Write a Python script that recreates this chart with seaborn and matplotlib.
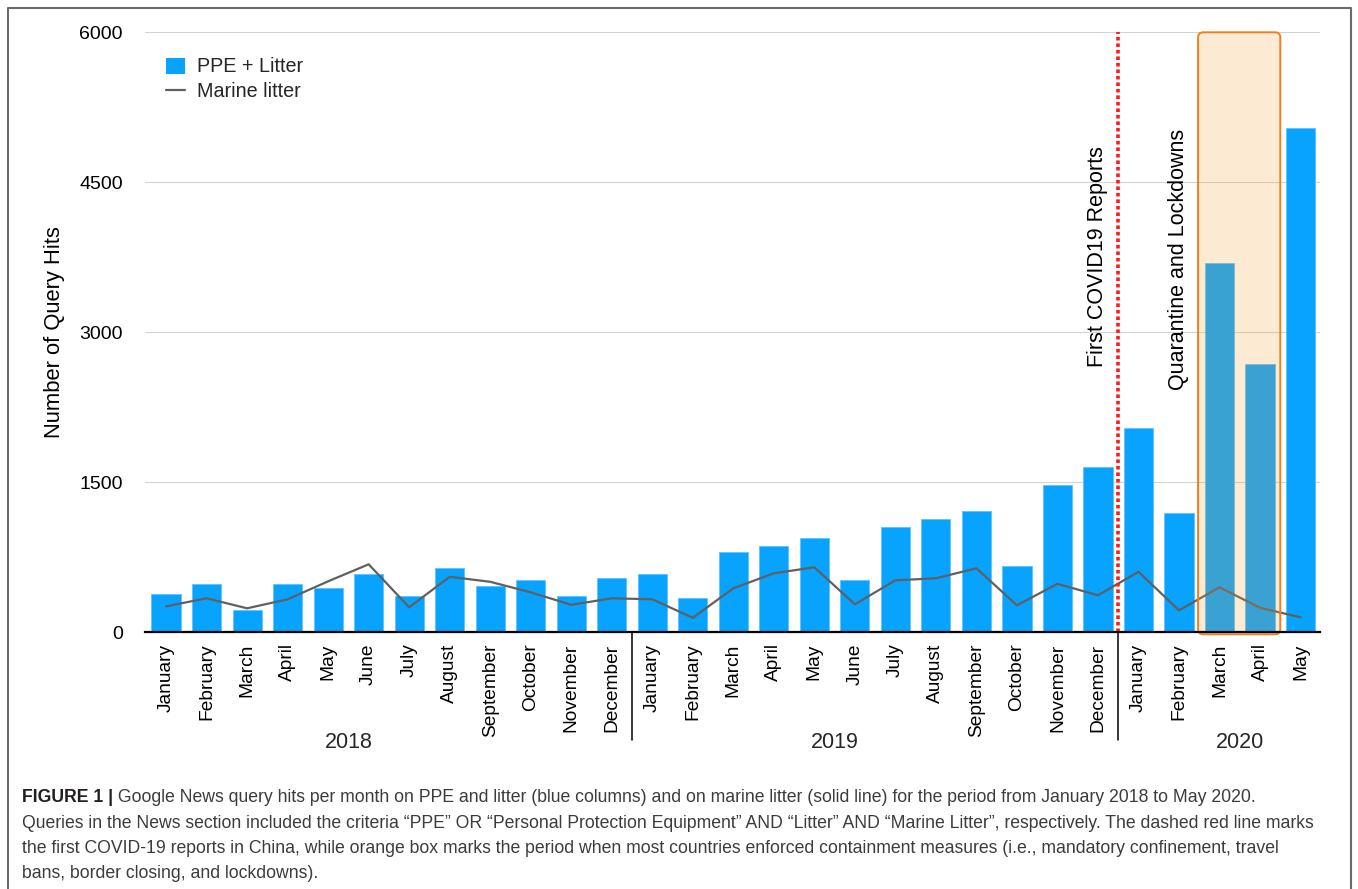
import numpy as np
import pandas as pd
import matplotlib.pyplot as plt
import matplotlib.transforms as mtransforms
from matplotlib.patches import FancyBboxPatch, Patch
from matplotlib.lines import Line2D
from matplotlib.colors import to_rgba
import seaborn as sns

month_names = ['January', 'February', 'March', 'April', 'May', 'June', 'July',
               'August', 'September', 'October', 'November', 'December']
month_labels = month_names + month_names + month_names[:5]
year_labels = ['2018', '2019', '2020']

# query hits per month, Jan 2018 - May 2020
ppe_litter = [385, 485, 225, 485, 440, 580, 360, 640, 460, 520, 360, 540,
              585, 345, 800, 860, 940, 520, 1055, 1135, 1215, 660, 1470, 1650,
              2045, 1195, 3690, 2680, 5040]
marine_litter = [260, 340, 240, 330, 510, 680, 250, 555, 505, 400, 275, 340,
                 330, 145, 440, 590, 650, 280, 520, 540, 640, 270, 485, 370,
                 605, 220, 450, 245, 150]

df = pd.DataFrame({'pos': np.arange(len(ppe_litter)), 'month': month_labels,
                   'ppe': ppe_litter, 'marine': marine_litter})

sns.set_theme(style="white")
plt.rcParams['font.family'] = ['Liberation Sans', 'DejaVu Sans']

W, H = 1358, 889
fig = plt.figure(figsize=(W / 100, H / 100), dpi=100)
ax = fig.add_axes([145 / W, 1 - 632.3 / H, 1175 / W, 600 / H])

blue = '#08A2FF'
grey = '#606060'

sns.barplot(data=df, x='pos', y='ppe', native_scale=True, width=0.72, color=blue,
            saturation=1, edgecolor='#5EC2FF', linewidth=0.6, ax=ax, zorder=2)
sns.lineplot(data=df, x='pos', y='marine', color=grey, linewidth=1.6, ax=ax,
             zorder=3, legend=False)

ax.set_xlim(-0.52, 28.48)
ax.set_ylim(0, 6000)
ax.set_yticks([0, 1500, 3000, 4500, 6000])
ax.set_xticks(df['pos'])
ax.set_xticklabels(df['month'], rotation=90, ha='center', va='top')
ax.yaxis.grid(True, color='#d3d3d3', linewidth=0.8)
ax.xaxis.grid(False)
ax.set_axisbelow(True)
for s in ['left', 'top', 'right']:
    ax.spines[s].set_visible(False)
ax.spines['bottom'].set_color('black')
ax.spines['bottom'].set_linewidth(1.6)
ax.spines['bottom'].set_zorder(6)
ax.tick_params(axis='y', length=0, pad=16, labelsize=14, labelcolor='black')
ax.tick_params(axis='x', length=0, pad=8, labelsize=13.8, labelcolor='black')
ax.set_xlabel('')
ax.set_ylabel('Number of Query Hits', fontsize=15.8, labelpad=10, color='black')

# first covid reports (dotted red) and lockdown period (orange box)
ax.vlines(23.5, 0, 6000, colors='#FF1A1A', linestyles=(0, (1, 0.8)),
          linewidth=2.6, zorder=4)
box = FancyBboxPatch((25.47, -20), 27.5 - 25.47, 6020,
                     boxstyle='round,pad=0,rounding_size=0.13', mutation_aspect=405,
                     facecolor=to_rgba('#F5A030', 0.21), edgecolor='#F07F22',
                     linewidth=1.4, zorder=5, clip_on=False)
ax.add_patch(box)

ax.text(23.0, 2650, 'First COVID19 Reports', rotation=90, ha='center', va='bottom',
        fontsize=15.5, color='black')
ax.text(25.0, 2420, 'Quarantine and Lockdowns', rotation=90, ha='center', va='bottom',
        fontsize=15.5, color='black')

# year separators and year labels
trans = mtransforms.blended_transform_factory(ax.transData, ax.transAxes)
for xs in [11.5, 23.5]:
    ax.plot([xs, xs], [0, -0.18], transform=trans, color='black', lw=1.1,
            clip_on=False)
ax.text(4.5, -0.184, year_labels[0], transform=trans, ha='center', va='center', fontsize=15.5)
ax.text(16.5, -0.184, year_labels[1], transform=trans, ha='center', va='center', fontsize=15.5)
ax.text(26.5, -0.184, year_labels[2], transform=trans, ha='center', va='center', fontsize=15.5)

handles = [Patch(facecolor=blue, edgecolor='none'), Line2D([], [], color=grey, lw=1.6)]
ax.legend(handles, ['PPE + Litter', 'Marine litter'], loc='upper left',
          bbox_to_anchor=(0.0179, 0.958), frameon=False, fontsize=14.2,
          handlelength=0.97, handleheight=0.85, handletextpad=0.6,
          labelspacing=0.3, borderpad=0, borderaxespad=0)

# outer frame
fig.add_artist(Line2D([8 / W, 8 / W, 1351 / W, 1351 / W], [0, 1 - 8 / H, 1 - 8 / H, 0],
                      transform=fig.transFigure, color='#6b6b6b', lw=1.5))

# caption
cap_size = 12.7
cap_col = '#3c3c3c'
x0 = 22 / W
bold = fig.text(x0, 1 - 802 / H, 'FIGURE 1 |', fontsize=cap_size, fontweight='bold',
                color='#231F20', va='baseline')
fig.canvas.draw()
bw = bold.get_window_extent().width / W
fig.text(x0 + bw, 1 - 802 / H,
         ' Google News query hits per month on PPE and litter (blue columns) and on marine '
         'litter (solid line) for the period from January 2018 to May 2020.',
         fontsize=cap_size, color=cap_col, va='baseline')
cap_lines = [
    'Queries in the News section included the criteria \u201cPPE\u201d OR \u201cPersonal '
    'Protection Equipment\u201d AND \u201cLitter\u201d AND \u201cMarine Litter\u201d, '
    'respectively. The dashed red line marks',
    'the first COVID-19 reports in China, while orange box marks the period when most '
    'countries enforced containment measures (i.e., mandatory confinement, travel',
    'bans, border closing, and lockdowns).',
]
for i, line in enumerate(cap_lines):
    fig.text(x0, 1 - (827.5 + 25.5 * i) / H, line, fontsize=cap_size, color=cap_col,
             va='baseline')

fig.savefig('out.png', dpi=100)
